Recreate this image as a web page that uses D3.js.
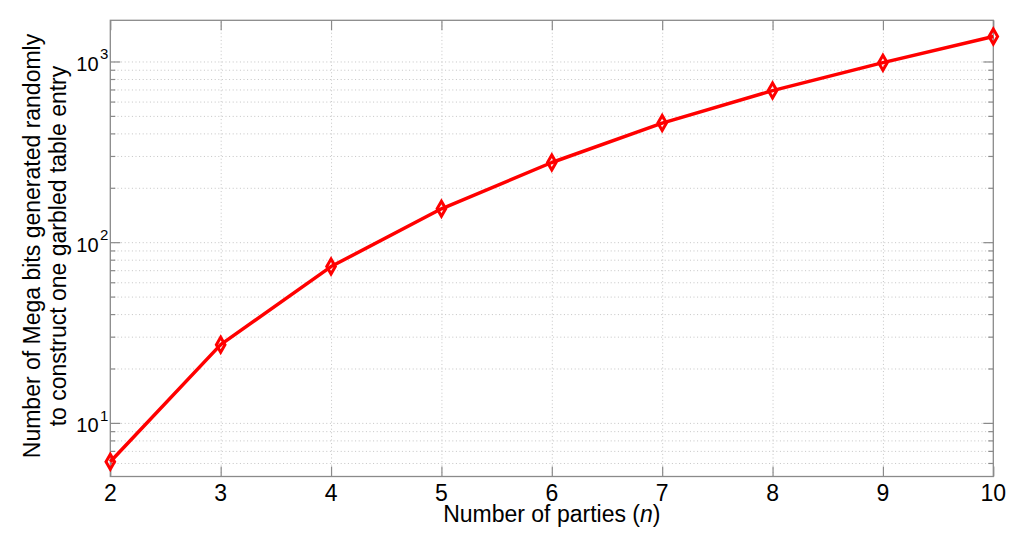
<!DOCTYPE html>
<html>
<head>
<meta charset="utf-8">
<script src="https://cdn.jsdelivr.net/npm/d3@7"></script>
<style>
  body { margin: 0; background: #fff; }
  svg text { font-family: "Liberation Sans", Arial, Helvetica, sans-serif; fill: #000; }
</style>
</head>
<body>
<svg id="chart" width="1024" height="539"></svg>
<script>
// values
var parties = [2, 3, 4, 5, 6, 7, 8, 9, 10];
var megaBits = [6.1, 27.1, 73.3, 153, 276, 456, 690, 985, 1375];
var xTicks = [2, 3, 4, 5, 6, 7, 8, 9, 10];
var yMajor = [10, 100, 1000];
var yExponents = ["1", "2", "3"];

var svg = d3.select("#chart"),
  plotLeft = 110.3, plotRight = 993.3, plotTop = 20.3, plotBottom = 476.5,
  w = plotRight - plotLeft, h = plotBottom - plotTop;

var x = d3.scaleLinear().domain([2, 10]).range([0, w]);
var y = d3.scaleLog().domain([5.05, 1690]).range([h, 0]);

var yMinor = y.ticks().filter(function (v) { return yMajor.indexOf(v) < 0; });

var g = svg.append("g").attr("transform", "translate(" + plotLeft + "," + plotTop + ")");

// dotted grid
function styleGrid(sel) {
  sel.select(".domain").remove();
  sel.selectAll("line")
    .attr("stroke", "#c4c4c4")
    .attr("stroke-width", 1)
    .attr("stroke-dasharray", "1,2.6");
}
g.append("g")
  .call(d3.axisLeft(y).tickValues(y.ticks()).tickSize(-w).tickFormat(""))
  .call(styleGrid);
g.append("g")
  .attr("transform", "translate(0," + h + ")")
  .call(d3.axisBottom(x).tickValues(xTicks.slice(1, -1)).tickSize(-h).tickFormat(""))
  .call(styleGrid);

// ticks on all four sides, pointing in
function styleTicks(sel) {
  sel.select(".domain").remove();
  sel.selectAll("line").attr("stroke", "#8a8a8a").attr("stroke-width", 1.2);
}
g.append("g").call(d3.axisLeft(y).tickValues(yMajor).tickSize(-10).tickFormat("")).call(styleTicks);
g.append("g").call(d3.axisLeft(y).tickValues(yMinor).tickSize(-5).tickFormat("")).call(styleTicks);
g.append("g").attr("transform", "translate(" + w + ",0)")
  .call(d3.axisRight(y).tickValues(yMajor).tickSize(-10).tickFormat("")).call(styleTicks);
g.append("g").attr("transform", "translate(" + w + ",0)")
  .call(d3.axisRight(y).tickValues(yMinor).tickSize(-5).tickFormat("")).call(styleTicks);
g.append("g").attr("transform", "translate(0," + h + ")")
  .call(d3.axisBottom(x).tickValues(xTicks).tickSize(-10).tickFormat("")).call(styleTicks);
g.append("g")
  .call(d3.axisTop(x).tickValues(xTicks).tickSize(-10).tickFormat("")).call(styleTicks);

// box
g.append("rect")
  .attr("width", w).attr("height", h)
  .attr("fill", "none").attr("stroke", "#8a8a8a").attr("stroke-width", 1.3);

// x tick labels
g.selectAll(".xlab").data(xTicks).enter().append("text")
  .attr("class", "xlab")
  .attr("x", function (d) { return x(d); })
  .attr("y", h + 25)
  .attr("text-anchor", "middle")
  .style("font-size", "23px")
  .text(function (d) { return d; });

// y tick labels 10^k
var ylab = g.selectAll(".ylab").data(yMajor).enter().append("text")
  .attr("class", "ylab")
  .attr("x", -34)
  .attr("y", function (d) { return y(d) + 9.5; })
  .style("font-size", "20px");
ylab.append("tspan").text("10");
ylab.append("tspan")
  .attr("dx", 1.5).attr("dy", -11.5)
  .style("font-size", "15px")
  .text(function (d, i) { return yExponents[i]; });

// line + diamond markers
var line = d3.line()
  .x(function (d, i) { return x(parties[i]); })
  .y(function (d) { return y(d); });

g.append("path")
  .datum(megaBits)
  .attr("d", line)
  .attr("fill", "none")
  .attr("stroke", "#ff0000")
  .attr("stroke-width", 3.5)
  .attr("stroke-linejoin", "round");

g.selectAll(".marker").data(megaBits).enter().append("path")
  .attr("class", "marker")
  .attr("transform", function (d, i) { return "translate(" + x(parties[i]) + "," + y(d) + ")"; })
  .attr("d", "M0,-7.5L4.3,0L0,7.5L-4.3,0Z")
  .attr("fill", "none")
  .attr("stroke", "#ff0000")
  .attr("stroke-width", 3);

// axis titles
svg.append("text")
  .attr("x", (plotLeft + plotRight) / 2)
  .attr("y", 521.5)
  .attr("text-anchor", "middle")
  .style("font-size", "23px")
  .html("Number of parties (<tspan font-style=\"italic\">n</tspan>)");

var ytitle = svg.append("text")
  .attr("transform", "translate(39.5,246) rotate(-90)")
  .attr("text-anchor", "middle")
  .style("font-size", "23px");
ytitle.append("tspan").attr("x", 0).attr("y", 0).text("Number of Mega bits generated randomly");
ytitle.append("tspan").attr("x", 0).attr("y", 26).text("to construct one garbled table entry");
</script>
</body>
</html>
